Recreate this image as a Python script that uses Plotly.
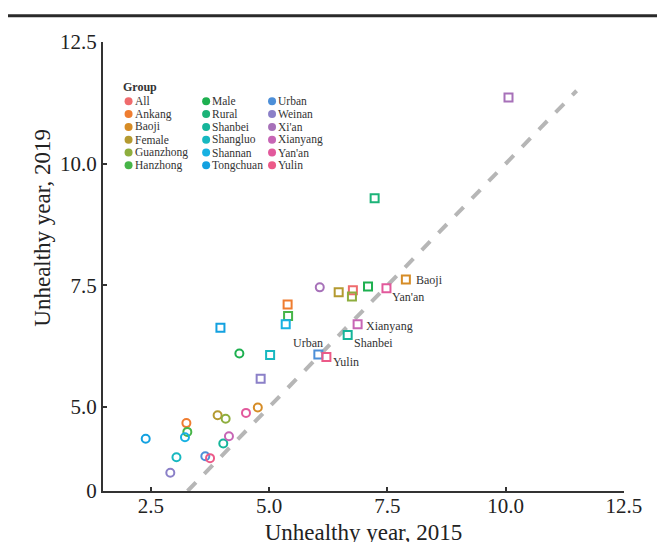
import plotly.graph_objects as go

# ---------------- data ----------------
groups = ["All", "Ankang", "Baoji", "Female", "Guanzhong", "Hanzhong",
          "Male", "Rural", "Shanbei", "Shangluo", "Shannan", "Tongchuan",
          "Urban", "Weinan", "Xi'an", "Xianyang", "Yan'an", "Yulin"]
colors = ["#ef6b6d", "#ef7d30", "#d68c26", "#b49a30", "#8eae3e", "#47b548",
          "#1eb050", "#1cb378", "#15b59a", "#17b8c0", "#17b1e2", "#13a1e0",
          "#4d8fd8", "#8b80c8", "#a771b9", "#c765b5", "#e2599c", "#ec5a88"]

# squares
sq_2015 = [6.77, 5.39, 7.89, 6.47, 6.75, 5.40, 7.09, 7.23, 6.66, 5.02, 5.35, 3.97,
           6.04, 4.82, 10.06, 6.87, 7.48, 6.21]
sq_2019 = [7.40, 7.11, 7.62, 7.36, 7.27, 6.87, 7.48, 9.29, 6.48, 6.07, 6.70, 6.63,
           6.08, 5.58, 11.36, 6.70, 7.44, 6.03]
# circles (None = not shown)
ci_2015 = [None, 3.25, 4.76, 3.91, 4.08, 3.27, 4.37, None, 4.03, 3.04, 3.22, 2.39,
           3.65, 2.91, 6.07, 4.15, 4.51, 3.75]
ci_2019 = [None, 4.67, 4.99, 4.83, 4.76, 4.49, 6.10, None, 4.25, 3.97, 4.38, 4.35,
           3.99, 3.65, 7.46, 4.40, 4.88, 3.95]

labelled = ["Baoji", "Yan'an", "Xianyang", "Shanbei", "Urban", "Yulin"]

x_tickvals = [2.5, 5.0, 7.5, 10.0, 12.5]
x_ticktext = ["2.5", "5.0", "7.5", "10.0", "12.5"]
y_floor = 3.275           # broken axis: bottom is labelled "0"
y_tickvals = [y_floor, 5.0, 7.5, 10.0, 12.5]
y_ticktext = ["0", "5.0", "7.5", "10.0", "12.5"]
diag_end = 11.5

FONT = "Liberation Serif"
AX = "#333333"
W, H = 665, 542
OFF = 8                       # default page body margin of the html page
L, R, T, B = 102.7, 624.5, 41.7, 490.7   # plot area on screen

fig = go.Figure()

# reference y = x dashed line
fig.add_trace(go.Scatter(x=[y_floor, diag_end], y=[y_floor, diag_end], mode="lines",
                         line=dict(color="#b6b6b6", width=4, dash="12px,12px"),
                         hoverinfo="skip", showlegend=False))

ci = [(x, y, c) for x, y, c in zip(ci_2015, ci_2019, colors) if x is not None]
fig.add_trace(go.Scatter(x=[p[0] for p in ci], y=[p[1] for p in ci], mode="markers",
                         marker=dict(symbol="circle-open", size=8, color=[p[2] for p in ci],
                                     line=dict(width=2)),
                         showlegend=False))
fig.add_trace(go.Scatter(x=sq_2015, y=sq_2019, mode="markers",
                         marker=dict(symbol="square-open", size=8, color=colors,
                                     line=dict(width=2)),
                         showlegend=False))

# point labels
offsets = {"Baoji": ("left", 8, 0), "Yan'an": ("left", 4, -9), "Xianyang": ("left", 6, -2),
           "Shanbei": ("left", 4, -7.5), "Urban": ("right", 7, 11.5), "Yulin": ("left", 5, -5.5)}
for g in labelled:
    i = groups.index(g)
    anc, dx, dy = offsets[g]
    fig.add_annotation(x=sq_2015[i], y=sq_2019[i], text=g, showarrow=False,
                       xanchor=anc, yanchor="middle", xshift=dx, yshift=dy,
                       font=dict(family=FONT, size=12, color="#333333"))

# manual 3-column legend on a pixel-unit overlay axis
col_marker_x = [128.3, 206.0, 272.0]
row0, row_step = 101.0, 12.8
lx, ly, lc = [], [], []
for i, g in enumerate(groups):
    col, row = divmod(i, 6)
    lx.append(col_marker_x[col])
    ly.append(row0 + row * row_step)
    lc.append(colors[i])
    fig.add_annotation(xref="x2", yref="y2", x=col_marker_x[col] + 5.2, y=row0 + row * row_step,
                       text=g, showarrow=False, xanchor="left", yanchor="middle", borderpad=0,
                       font=dict(family=FONT, size=11.5, color="#333333"))
fig.add_trace(go.Scatter(x=lx, y=ly, xaxis="x2", yaxis="y2", mode="markers",
                         marker=dict(symbol="circle", size=8, color=lc),
                         hoverinfo="skip", showlegend=False))
fig.add_annotation(xref="x2", yref="y2", x=121, y=86.5, text="<b>Group</b>", showarrow=False,
                   xanchor="left", yanchor="middle",
                   font=dict(family=FONT, size=12, color="#333333"))

# y-axis title
fig.add_annotation(xref="paper", yref="paper", x=(42 - L) / (R - L), y=(B - 227) / (B - T),
                   text="Unhealthy year, 2019", textangle=-90, showarrow=False,
                   xanchor="center", yanchor="middle",
                   font=dict(family=FONT, size=23, color="#222222"))

# top rule
fig.add_shape(type="line", xref="paper", yref="paper",
              x0=(7 - L) / (R - L), x1=(W + 10 - L) / (R - L),
              y0=(B - 15.5) / (B - T), y1=(B - 15.5) / (B - T),
              line=dict(color="#2a2a2a", width=3))

fig.update_layout(
    width=W, height=H,
    margin=dict(l=L - OFF, r=W - (R - OFF), t=T - OFF, b=H - (B - OFF), autoexpand=False),
    paper_bgcolor="white", plot_bgcolor="white",
    font=dict(family=FONT, color="#222222"),
    showlegend=False,
    xaxis=dict(range=[1.487, 12.502], tickvals=x_tickvals, ticktext=x_ticktext,
               showgrid=False, zeroline=False, showline=True, linecolor=AX, linewidth=2,
               ticks="inside", ticklen=4, tickwidth=1.5, tickcolor=AX, automargin=False,
               ticklabelstandoff=-5,
               tickfont=dict(family=FONT, size=21, color="#222222"),
               title=dict(text="Unhealthy year, 2015", standoff=7,
                          font=dict(family=FONT, size=23, color="#222222"))),
    yaxis=dict(range=[y_floor, 12.502], tickvals=y_tickvals, ticktext=y_ticktext,
               showgrid=False, zeroline=False, showline=True, linecolor=AX, linewidth=2,
               ticks="inside", ticklen=4, tickwidth=1.5, tickcolor=AX, automargin=False,
               tickfont=dict(family=FONT, size=21, color="#222222")),
    xaxis2=dict(overlaying="x", range=[L, R], visible=False),
    yaxis2=dict(overlaying="y", range=[B, T], visible=False),
)

fig.write_html("out.html")
